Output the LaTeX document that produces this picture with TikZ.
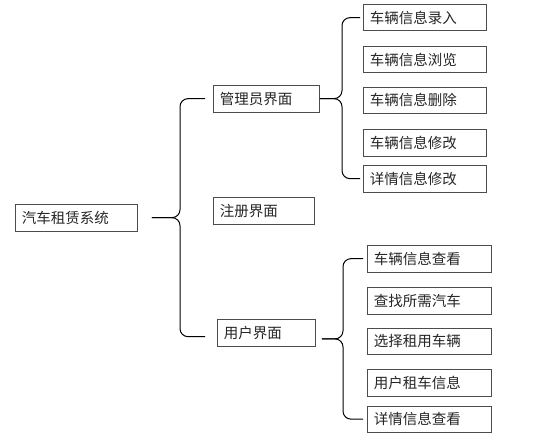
\documentclass[tikz,border=0pt]{standalone}
\usepackage{fontspec}
\setmainfont{Noto Sans CJK SC}
\usetikzlibrary{calc}
\begin{document}
\begin{tikzpicture}[x=1pt,y=-1pt,
  box/.style={draw=black!70, line width=0.8pt, anchor=north west, inner xsep=6.5pt, inner ysep=0pt,
    minimum height=26.5pt, align=left, text=black!85, font=\fontsize{14.5}{16}\selectfont},
  brace/.style={draw=black, line width=1pt, rounded corners=8pt}]
\useasboundingbox (0,0) rectangle (554,436);
\fill[white] (0,0) rectangle (554,436);
% root
\node[box, text width=109pt] (root) at (15,204) {汽车租赁系统};
% level 1
\node[box, text width=93pt] (admin) at (213,85) {管理员界面};
\node[box, text width=88pt] (reg) at (213,197) {注册界面};
\node[box, text width=85pt] (user) at (217,319) {用户界面};
% admin children
\node[box, text width=110pt] (a1) at (363,4) {车辆信息录入};
\node[box, text width=110pt] (a2) at (363,46) {车辆信息浏览};
\node[box, text width=110pt] (a3) at (363,86.5) {车辆信息删除};
\node[box, text width=110pt] (a4) at (363,129) {车辆信息修改};
\node[box, text width=110pt] (a5) at (363,165) {详情信息修改};
% user children
\node[box, text width=111pt] (u1) at (367,245) {车辆信息查看};
\node[box, text width=111pt] (u2) at (367,287) {查找所需汽车};
\node[box, text width=111pt] (u3) at (367,327.5) {选择租用车辆};
\node[box, text width=111pt] (u4) at (367,369) {用户租车信息};
\node[box, text width=111pt] (u5) at (367,405.5) {详情信息查看};
% root brace
\coordinate (rs) at ($(root.east)+(14pt,0)$);
\draw[brace] ([xshift=-8pt]admin.west) -- ++(-25pt,0) |- (rs);
\draw[brace] ([xshift=-12pt,yshift=-4pt]user.west) -- ++(-25pt,0) |- (rs);
% admin brace
\draw[brace] ([xshift=-3pt]a1.west) -- ++(-18pt,0) |- (admin.east);
\draw[brace] ([xshift=-3pt]a5.west) -- ++(-18pt,0) |- (admin.east);
% user brace
\coordinate (um) at ($(u1.west)!.5!(u5.west)$);
\coordinate (us) at ($(user.east |- um)+(6pt,0)$);
\draw[brace] ([xshift=-4pt]u1.west) -- ++(-20pt,0) |- (us);
\draw[brace] ([xshift=-4pt]u5.west) -- ++(-20pt,0) |- (us);
\end{tikzpicture}
\end{document}
